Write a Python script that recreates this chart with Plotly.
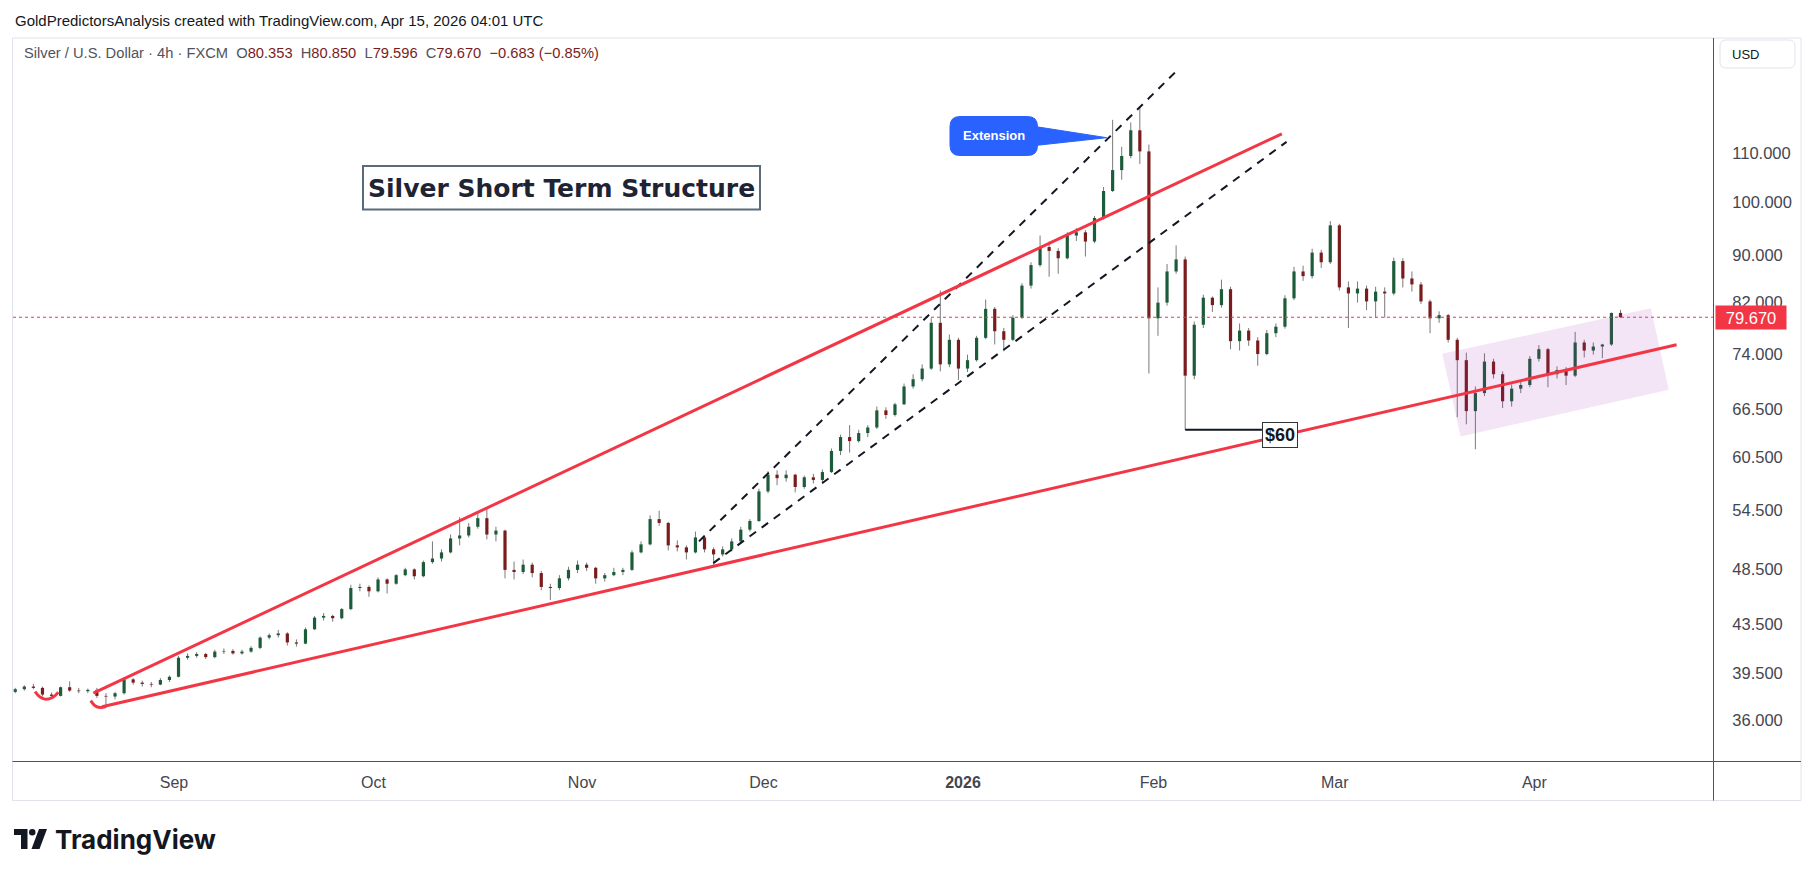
import numpy as np
import plotly.graph_objects as go

# ---------------- data (daily candles) ----------------
dates = [
    "2025-08-06", "2025-08-07", "2025-08-08", "2025-08-11", "2025-08-12", "2025-08-13", "2025-08-14", "2025-08-15",
    "2025-08-18", "2025-08-19", "2025-08-20", "2025-08-21", "2025-08-22", "2025-08-25", "2025-08-26", "2025-08-27",
    "2025-08-28", "2025-08-29", "2025-09-01", "2025-09-02", "2025-09-03", "2025-09-04", "2025-09-05", "2025-09-08",
    "2025-09-09", "2025-09-10", "2025-09-11", "2025-09-12", "2025-09-15", "2025-09-16", "2025-09-17", "2025-09-18",
    "2025-09-19", "2025-09-22", "2025-09-23", "2025-09-24", "2025-09-25", "2025-09-26", "2025-09-29", "2025-09-30",
    "2025-10-01", "2025-10-02", "2025-10-03", "2025-10-06", "2025-10-07", "2025-10-08", "2025-10-09", "2025-10-10",
    "2025-10-13", "2025-10-14", "2025-10-15", "2025-10-16", "2025-10-17", "2025-10-20", "2025-10-21", "2025-10-22",
    "2025-10-23", "2025-10-24", "2025-10-27", "2025-10-28", "2025-10-29", "2025-10-30", "2025-10-31", "2025-11-03",
    "2025-11-04", "2025-11-05", "2025-11-06", "2025-11-07", "2025-11-10", "2025-11-11", "2025-11-12", "2025-11-13",
    "2025-11-14", "2025-11-17", "2025-11-18", "2025-11-19", "2025-11-20", "2025-11-21", "2025-11-24", "2025-11-25",
    "2025-11-26", "2025-11-27", "2025-11-28", "2025-12-01", "2025-12-02", "2025-12-03", "2025-12-04", "2025-12-05",
    "2025-12-08", "2025-12-09", "2025-12-10", "2025-12-11", "2025-12-12", "2025-12-15", "2025-12-16", "2025-12-17",
    "2025-12-18", "2025-12-19", "2025-12-22", "2025-12-23", "2025-12-24", "2025-12-26", "2025-12-29", "2025-12-30",
    "2025-12-31", "2026-01-02", "2026-01-05", "2026-01-06", "2026-01-07", "2026-01-08", "2026-01-09", "2026-01-12",
    "2026-01-13", "2026-01-14", "2026-01-15", "2026-01-16", "2026-01-19", "2026-01-20", "2026-01-21", "2026-01-22",
    "2026-01-23", "2026-01-26", "2026-01-27", "2026-01-28", "2026-01-29", "2026-01-30", "2026-02-02", "2026-02-03",
    "2026-02-04", "2026-02-05", "2026-02-06", "2026-02-09", "2026-02-10", "2026-02-11", "2026-02-12", "2026-02-13",
    "2026-02-16", "2026-02-17", "2026-02-18", "2026-02-19", "2026-02-20", "2026-02-23", "2026-02-24", "2026-02-25",
    "2026-02-26", "2026-02-27", "2026-03-02", "2026-03-03", "2026-03-04", "2026-03-05", "2026-03-06", "2026-03-09",
    "2026-03-10", "2026-03-11", "2026-03-12", "2026-03-13", "2026-03-16", "2026-03-17", "2026-03-18", "2026-03-19",
    "2026-03-20", "2026-03-23", "2026-03-24", "2026-03-25", "2026-03-26", "2026-03-27", "2026-03-30", "2026-03-31",
    "2026-04-01", "2026-04-02", "2026-04-06", "2026-04-07", "2026-04-08", "2026-04-09", "2026-04-10", "2026-04-13",
    "2026-04-14", "2026-04-15",
]
opens = [
    38.05, 38.25, 38.45, 38.35, 37.85, 37.75, 38.40, 38.15, 38.10, 38.20, 37.75, 37.70, 37.95, 39.00, 38.75, 38.65,
    38.60, 38.95, 39.20, 40.70, 40.85, 41.00, 40.75, 41.20, 41.25, 41.05, 41.20, 41.50, 42.35, 42.55, 42.70, 41.95,
    41.85, 43.05, 44.05, 44.20, 44.00, 44.80, 46.70, 46.80, 46.40, 47.50, 47.10, 47.90, 48.45, 47.80, 49.15, 49.50,
    50.10, 51.50, 51.80, 52.70, 53.60, 51.90, 52.30, 48.40, 48.20, 48.90, 48.10, 46.80, 46.70, 47.60, 48.40, 48.90,
    48.60, 47.60, 47.90, 48.20, 48.40, 50.10, 50.90, 53.50, 53.10, 50.80, 50.60, 50.10, 51.60, 50.40, 49.90, 50.40,
    51.20, 52.40, 53.30, 56.50, 58.40, 58.00, 58.40, 57.00, 58.10, 57.80, 58.70, 61.20, 62.90, 62.40, 63.40, 64.10,
    66.30, 65.70, 67.10, 69.50, 70.50, 72.00, 78.80, 72.60, 76.20, 72.00, 73.20, 76.50, 81.00, 77.50, 76.20, 79.60,
    84.80, 88.30, 91.50, 90.80, 89.50, 93.60, 94.20, 92.50, 96.90, 102.20, 106.50, 109.50, 115.20, 110.50, 79.50, 82.00,
    87.20, 89.30, 71.00, 78.50, 82.80, 81.60, 84.20, 76.00, 77.60, 76.10, 74.10, 77.20, 78.20, 82.70, 87.20, 86.40,
    90.50, 88.80, 95.50, 84.50, 83.50, 84.30, 82.20, 83.80, 83.50, 89.00, 86.00, 85.00, 82.20, 79.50, 80.00, 76.20,
    73.20, 66.20, 68.60, 73.00, 71.20, 67.50, 69.20, 69.70, 73.40, 74.80, 71.20, 71.80, 71.00, 75.80, 74.60, 75.20,
    75.50, 80.353,
]
highs = [
    38.35, 38.55, 38.65, 38.45, 38.00, 38.45, 38.85, 38.35, 38.30, 38.35, 37.95, 38.05, 39.15, 39.10, 38.90, 38.80,
    39.10, 39.30, 40.85, 41.05, 41.15, 41.10, 41.35, 41.45, 41.40, 41.35, 41.65, 42.45, 42.70, 43.00, 42.80, 42.20,
    43.20, 44.20, 44.45, 44.30, 44.90, 47.00, 47.10, 46.95, 47.70, 47.60, 48.00, 48.60, 48.55, 49.30, 51.20, 50.40,
    51.90, 53.70, 53.10, 54.20, 54.60, 52.70, 52.40, 49.20, 49.40, 49.10, 48.30, 47.10, 47.90, 48.70, 49.30, 49.10,
    48.70, 48.10, 48.60, 48.60, 50.30, 51.20, 53.90, 54.40, 53.20, 51.30, 50.80, 52.20, 51.80, 50.60, 50.70, 51.50,
    52.70, 53.50, 56.80, 58.80, 58.90, 58.90, 58.50, 58.30, 58.50, 59.00, 61.50, 63.20, 64.40, 63.80, 64.40, 66.80,
    66.70, 67.30, 69.90, 71.20, 72.60, 79.50, 84.00, 77.00, 76.50, 74.00, 76.80, 82.50, 81.30, 78.00, 80.00, 85.20,
    88.80, 93.60, 92.50, 91.30, 94.20, 95.00, 94.60, 97.30, 103.00, 117.60, 111.50, 117.00, 120.40, 112.00, 84.50, 88.50,
    91.80, 89.80, 79.00, 83.30, 83.00, 85.80, 84.60, 78.70, 78.00, 76.60, 77.70, 78.70, 83.20, 88.00, 88.20, 91.20,
    91.00, 96.30, 95.80, 85.50, 85.50, 84.80, 84.60, 84.50, 89.60, 89.50, 87.20, 85.40, 82.50, 80.60, 80.20, 76.50,
    74.30, 69.50, 74.20, 73.40, 71.60, 69.80, 70.20, 73.80, 75.40, 75.00, 72.30, 72.20, 77.40, 76.20, 75.80, 75.60,
    80.40, 80.85,
]
lows = [
    37.95, 38.15, 38.25, 37.70, 37.55, 37.70, 38.05, 37.95, 37.95, 37.60, 37.05, 37.50, 37.85, 38.60, 38.45, 38.40,
    38.55, 38.80, 39.15, 40.55, 40.70, 40.60, 40.65, 41.00, 40.95, 40.95, 41.10, 41.40, 42.20, 42.35, 41.70, 41.60,
    41.80, 43.00, 43.80, 43.70, 43.90, 44.70, 46.40, 45.90, 46.30, 46.20, 47.00, 47.80, 47.50, 47.70, 49.00, 49.20,
    50.00, 50.80, 51.60, 52.50, 51.40, 51.20, 47.60, 47.50, 48.00, 47.70, 46.50, 45.60, 46.50, 47.40, 48.10, 48.30,
    47.10, 47.30, 47.80, 47.90, 48.30, 50.00, 50.80, 52.80, 50.30, 50.20, 49.40, 50.00, 50.10, 48.90, 49.70, 50.20,
    51.10, 52.20, 53.20, 56.30, 57.20, 57.60, 56.40, 56.80, 57.40, 57.50, 58.60, 60.70, 61.00, 62.20, 62.90, 63.90,
    65.20, 65.50, 67.00, 69.20, 70.20, 71.80, 71.60, 72.20, 70.40, 71.50, 73.00, 76.30, 75.50, 74.50, 76.00, 79.40,
    84.30, 88.00, 86.30, 86.80, 89.30, 92.60, 89.80, 92.20, 96.60, 102.00, 104.50, 109.00, 107.80, 71.30, 76.80, 81.50,
    86.80, 63.80, 70.50, 78.00, 80.50, 81.20, 74.80, 74.60, 75.30, 72.40, 73.90, 76.60, 77.90, 82.40, 85.60, 86.00,
    87.80, 88.50, 84.00, 78.00, 82.00, 80.80, 79.60, 79.60, 83.20, 84.50, 83.80, 81.80, 77.20, 78.80, 75.80, 65.40,
    64.50, 61.40, 68.20, 70.60, 66.60, 66.80, 68.60, 69.40, 73.00, 69.40, 70.60, 69.70, 70.80, 73.60, 74.00, 73.50,
    75.30, 79.596,
]
closes = [
    38.25, 38.45, 38.35, 37.85, 37.75, 38.40, 38.15, 38.10, 38.20, 37.75, 37.70, 37.95, 39.00, 38.75, 38.65, 38.60,
    38.95, 39.20, 40.70, 40.85, 41.00, 40.75, 41.20, 41.25, 41.05, 41.20, 41.50, 42.35, 42.55, 42.70, 41.95, 41.85,
    43.05, 44.05, 44.20, 44.00, 44.80, 46.70, 46.80, 46.40, 47.50, 47.10, 47.90, 48.45, 47.80, 49.15, 49.50, 50.10,
    51.50, 51.80, 52.70, 53.60, 51.90, 52.30, 48.40, 48.20, 48.90, 48.10, 46.80, 46.70, 47.60, 48.40, 48.90, 48.60,
    47.60, 47.90, 48.20, 48.40, 50.10, 50.90, 53.50, 53.10, 50.80, 50.60, 50.10, 51.60, 50.40, 49.90, 50.40, 51.20,
    52.40, 53.30, 56.50, 58.40, 58.00, 58.40, 57.00, 58.10, 57.80, 58.70, 61.20, 62.90, 62.40, 63.40, 64.10, 66.30,
    65.70, 67.10, 69.50, 70.50, 72.00, 78.80, 72.60, 76.20, 72.00, 73.20, 76.50, 81.00, 77.50, 76.20, 79.60, 84.80,
    88.30, 91.50, 90.80, 89.50, 93.60, 94.20, 92.50, 96.90, 102.20, 106.50, 109.50, 115.20, 110.50, 79.50, 82.00, 87.20,
    89.30, 71.00, 78.50, 82.80, 81.60, 84.20, 76.00, 77.60, 76.10, 74.10, 77.20, 78.20, 82.70, 87.20, 86.40, 90.50,
    88.80, 95.50, 84.50, 83.50, 84.30, 82.20, 83.80, 83.50, 89.00, 86.00, 85.00, 82.20, 79.50, 80.00, 76.20, 73.20,
    66.20, 68.60, 73.00, 71.20, 67.50, 69.20, 69.70, 73.40, 74.80, 71.20, 71.80, 71.00, 75.80, 74.60, 75.20, 75.50,
    80.35, 79.67,
]

# axis ticks
price_ticks = [36.0, 39.5, 43.5, 48.5, 54.5, 60.5, 66.5, 74.0, 82.0, 90.0, 100.0, 110.0]
month_starts = ["2025-09-01", "2025-10-01", "2025-11-03", "2025-12-01", "2026-01-02", "2026-02-02", "2026-03-02", "2026-04-01"]
month_labels = ["Sep", "Oct", "Nov", "Dec", "<b>2026</b>", "Feb", "Mar", "Apr"]

# drawings (time, price) anchors
upper_wedge = [("2025-08-19 02:40", 37.95), ("2026-02-20 03:50", 114.4)]
lower_wedge = [("2025-08-20 01:40", 36.95), ("2026-04-23 16:20", 75.45)]
hook_mark = [("2025-08-18 19:40", 37.40), ("2025-08-19 07:00", 37.02), ("2025-08-19 20:25", 36.89), ("2025-08-20 12:15", 36.96)]
smile_mark = [("2025-08-08 16:20", 38.07), ("2025-08-11 05:30", 37.66), ("2025-08-11 18:40", 37.51),
              ("2025-08-12 13:10", 37.61), ("2025-08-13 06:00", 38.03)]
upper_dash = [("2025-11-19 21:20", 51.2), ("2026-02-04 14:10", 129.6)]
lower_dash = [("2025-11-21 11:15", 49.05), ("2026-02-20 16:20", 112.6)]
range_box = [("2026-03-17 20:10", 74.12), ("2026-04-20 20:25", 81.10), ("2026-04-22 19:55", 69.04), ("2026-03-19 20:55", 62.97)]
level_60 = [("2026-02-05 12:00", 63.8), ("2026-02-17 23:00", 63.8)]
label_60 = ("2026-02-19 22:30", 63.17)

HOLIDAYS = ["2025-12-25", "2026-01-01", "2026-04-03"]
START = dates[0]


def day_index(ts):
    d = ts[:10]
    frac = 0.0
    if len(ts) > 10:
        hh, mm = ts[11:16].split(":")
        frac = (int(hh) + int(mm) / 60.0) / 24.0
    return int(np.busday_count(START, d, holidays=HOLIDAYS)) + frac


# ---------------- layout geometry ----------------
W, H = 1814, 877
L, R, T, B = 13, 1713, 38, 761


def px(x):
    return (x - L) / (R - L)


def py(y):
    return (B - y) / (B - T)


UP = "#1d5c3a"
DN = "#7a1c1c"
WICK = "#7a7a7a"
RED = "#F23645"
FONT = "Liberation Sans, Arial, sans-serif"

xs = [day_index(d) + 0.5 for d in dates]

fig = go.Figure()

# wicks
fig.add_trace(go.Ohlc(
    x=xs, open=opens, high=highs, low=lows, close=closes, tickwidth=0,
    increasing=dict(line=dict(color=WICK, width=1)),
    decreasing=dict(line=dict(color=WICK, width=1)),
    showlegend=False, hoverinfo="skip"))

# bodies
for up, col in ((True, UP), (False, DN)):
    bx, by = [], []
    for x, o, c in zip(xs, opens, closes):
        if (c >= o) == up:
            lo_, hi_ = min(o, c), max(o, c)
            bx += [x, x, None]
            by += [lo_, hi_, None]
    fig.add_trace(go.Scatter(x=bx, y=by, mode="lines", line=dict(color=col, width=3.2),
                             showlegend=False, hoverinfo="skip"))


def add_line(points, color, width, dash=None, shape="linear", fill=None, fillcolor=None):
    fig.add_trace(go.Scatter(
        x=[day_index(t) for t, _ in points], y=[p for _, p in points],
        mode="lines", line=dict(color=color, width=width, dash=dash, shape=shape),
        fill=fill, fillcolor=fillcolor, showlegend=False, hoverinfo="skip"))


xr = [0.25, 187.7]
# current price dotted line
fig.add_trace(go.Scatter(x=xr, y=[closes[-1], closes[-1]], mode="lines",
                         line=dict(color=RED, width=1, dash="dot"), showlegend=False, hoverinfo="skip"))

add_line(range_box + [range_box[0]], "rgba(0,0,0,0)", 0, fill="toself", fillcolor="rgba(156,39,176,0.12)")
add_line(upper_dash, "#131722", 2, dash="8px,7px")
add_line(lower_dash, "#131722", 2, dash="8px,7px")
add_line(upper_wedge, RED, 3)
add_line(lower_wedge, RED, 3)
add_line(hook_mark, RED, 3, shape="spline")
add_line(smile_mark, RED, 3, shape="spline")
add_line(level_60, "#131722", 2)

shapes = []
annotations = []

# chart frame and pane separators
shapes.append(dict(type="rect", xref="paper", yref="paper", x0=px(12.5), x1=px(1801), y0=py(800.5), y1=py(38),
                   line=dict(color="#e0e3eb", width=1), layer="below"))
shapes.append(dict(type="line", xref="paper", yref="paper", x0=px(12.5), x1=px(1801), y0=py(761.5), y1=py(761.5),
                   line=dict(color="#50535e", width=1)))
shapes.append(dict(type="line", xref="paper", yref="paper", x0=px(1713.5), x1=px(1713.5), y0=py(38), y1=py(800.5),
                   line=dict(color="#50535e", width=1)))


def rrect_path(x0, y0, x1, y1, r):
    return (f"M {px(x0 + r)},{py(y0)} L {px(x1 - r)},{py(y0)} Q {px(x1)},{py(y0)} {px(x1)},{py(y0 + r)} "
            f"L {px(x1)},{py(y1 - r)} Q {px(x1)},{py(y1)} {px(x1 - r)},{py(y1)} "
            f"L {px(x0 + r)},{py(y1)} Q {px(x0)},{py(y1)} {px(x0)},{py(y1 - r)} "
            f"L {px(x0)},{py(y0 + r)} Q {px(x0)},{py(y0)} {px(x0 + r)},{py(y0)} Z")


# USD box
shapes.append(dict(type="path", xref="paper", yref="paper", path=rrect_path(1720, 40, 1795, 68, 6),
                   line=dict(color="#e0e3eb", width=1), fillcolor="white"))
annotations.append(dict(xref="paper", yref="paper", x=px(1730), y=py(54), xanchor="left", yanchor="middle",
                        text="USD", showarrow=False, font=dict(family=FONT, size=13, color="#131722")))

# Extension callout
shapes.append(dict(type="path", xref="paper", yref="paper", path=rrect_path(950, 116.5, 1037.5, 155.5, 10),
                   line=dict(color="#2962FF", width=1), fillcolor="#2962FF"))
shapes.append(dict(type="path", xref="paper", yref="paper",
                   path=f"M {px(1035)},{py(126.5)} L {px(1106.7)},{py(137.7)} L {px(1035)},{py(145.5)} Z",
                   line=dict(color="#2962FF", width=1), fillcolor="#2962FF"))
annotations.append(dict(xref="paper", yref="paper", x=px(993.5), y=py(136), xanchor="center", yanchor="middle",
                        text="<b>Extension</b>", showarrow=False, font=dict(family=FONT, size=13, color="white")))

# title box
shapes.append(dict(type="rect", xref="paper", yref="paper", x0=px(363), x1=px(760), y0=py(209.5), y1=py(166),
                   line=dict(color="#5b6b7c", width=2), fillcolor="white"))
annotations.append(dict(xref="paper", yref="paper", x=px(561.5), y=py(188.5), xanchor="center", yanchor="middle",
                        text="<b>Silver Short Term Structure</b>", showarrow=False,
                        font=dict(family="DejaVu Sans, sans-serif", size=25, color="#1e2433")))

# $60 label
annotations.append(dict(xref="x", yref="y", x=day_index(label_60[0]), y=np.log10(label_60[1]),
                        xanchor="center", yanchor="middle", text="<b>$60</b>", showarrow=False,
                        font=dict(family=FONT, size=18, color="#131722"), bgcolor="white",
                        bordercolor="#333333", borderwidth=1, borderpad=2))

# last price label
annotations.append(dict(xref="paper", yref="y", x=px(1714.5), y=np.log10(closes[-1]), xanchor="left", yanchor="middle",
                        text=f"{closes[-1]:.3f}", showarrow=False, width=64, height=17, borderpad=3,
                        bgcolor=RED, font=dict(family=FONT, size=16.5, color="white")))

# header & legend
annotations.append(dict(xref="paper", yref="paper", x=px(13), y=py(20), xanchor="left", yanchor="middle",
                        text="GoldPredictorsAnalysis created with TradingView.com, Apr 15, 2026 04:01 UTC",
                        showarrow=False, font=dict(family=FONT, size=15, color="#131722")))
G = "#50535e"
V = "#7a1c1c"
nb = "\u00a0"
legend_txt = (f"<span style='color:{G}'>Silver / U.S. Dollar · 4h · FXCM{nb}{nb}O</span>"
              f"<span style='color:{V}'>{opens[-1]:.3f}</span><span style='color:{G}'>{nb}{nb}H</span>"
              f"<span style='color:{V}'>{highs[-1]:.3f}</span><span style='color:{G}'>{nb}{nb}L</span>"
              f"<span style='color:{V}'>{lows[-1]:.3f}</span><span style='color:{G}'>{nb}{nb}C</span>"
              f"<span style='color:{V}'>{closes[-1]:.3f}{nb}{nb}−0.683 (−0.85%)</span>")
annotations.append(dict(xref="paper", yref="paper", x=px(22), y=py(53), xanchor="left", yanchor="middle",
                        text=legend_txt, showarrow=False, font=dict(family=FONT, size=14.7, color=G)))

# TradingView logo
shapes.append(dict(type="path", xref="paper", yref="paper",
                   path=(f"M {px(14)},{py(829)} L {px(27.5)},{py(829)} L {px(27.5)},{py(849)} L {px(21)},{py(849)} "
                         f"L {px(21)},{py(835)} L {px(14)},{py(835)} Z"),
                   line=dict(width=0), fillcolor="#131722"))
shapes.append(dict(type="circle", xref="paper", yref="paper", x0=px(29), x1=px(35.5), y0=py(835.5), y1=py(829),
                   line=dict(width=0), fillcolor="#131722"))
shapes.append(dict(type="path", xref="paper", yref="paper",
                   path=f"M {px(39)},{py(829)} L {px(47)},{py(829)} L {px(39.5)},{py(849)} L {px(31.5)},{py(849)} Z",
                   line=dict(width=0), fillcolor="#131722"))
annotations.append(dict(xref="paper", yref="paper", x=px(53), y=py(839), xanchor="left", yanchor="middle",
                        text="<b>TradingView</b>", showarrow=False,
                        font=dict(family="Inter, sans-serif", size=26, color="#131722")))

fig.update_layout(
    width=W, height=H,
    margin=dict(l=L, r=W - R, t=T, b=H - B, pad=0),
    paper_bgcolor="white", plot_bgcolor="white",
    showlegend=False,
    shapes=shapes, annotations=annotations,
    xaxis=dict(range=xr, showgrid=False, zeroline=False, showline=False,
               ticks="outside", ticklen=7, tickcolor="rgba(0,0,0,0)",
               tickvals=[day_index(d) for d in month_starts], ticktext=month_labels,
               tickfont=dict(family=FONT, size=16, color="#434651"), rangeslider=dict(visible=False),
               fixedrange=True),
    yaxis=dict(type="log", range=[np.log10(33.2), np.log10(138.2)], side="right", showgrid=False,
               zeroline=False, showline=False, ticks="outside", ticklen=15, tickcolor="rgba(0,0,0,0)",
               tickvals=price_ticks, ticktext=[f"{v:.3f}" for v in price_ticks],
               tickfont=dict(family=FONT, size=16.5, color="#434651"), fixedrange=True),
)

fig.write_html("out.html")
